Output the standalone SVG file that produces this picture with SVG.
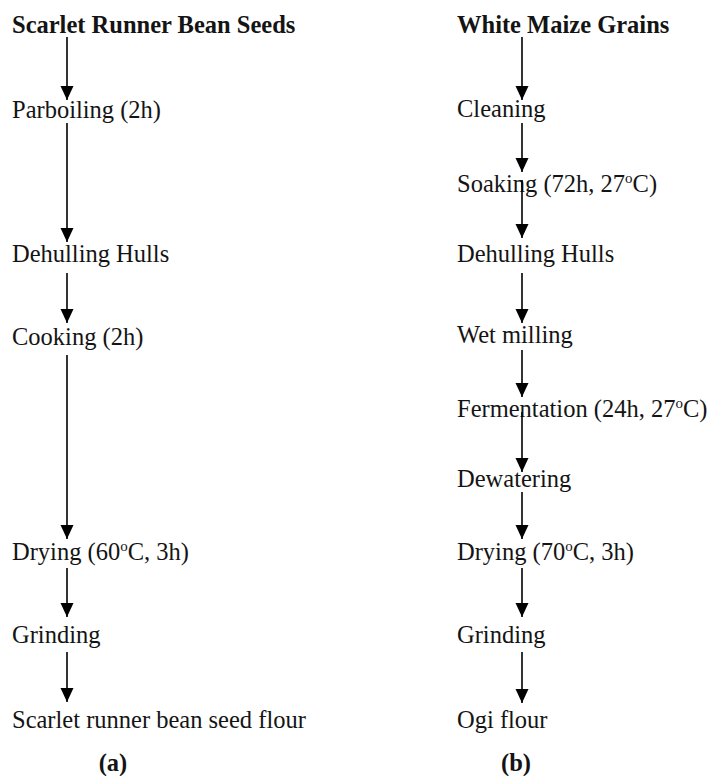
<svg xmlns="http://www.w3.org/2000/svg" width="709" height="776" viewBox="0 0 709 776">
<style>
text{font-family:"Liberation Serif","Times New Roman",serif;font-size:24.5px;fill:#141414}
.b{font-weight:bold}
.sup{font-size:15px}
.c line{stroke:#000;stroke-width:1.6;marker-end:url(#ah)}
</style>
<defs>
<marker id="ah" markerUnits="userSpaceOnUse" markerWidth="14" markerHeight="14" refX="14" refY="7" orient="auto" viewBox="0 0 14 14">
<path d="M0,0.5 L14,7 L0,13.5 Z" fill="#000"/>
</marker>
</defs>
<g id="a-title"><text x="12" y="33" class="b">Scarlet Runner Bean Seeds</text></g>
<g id="a-parboiling"><text x="12" y="118">Parboiling (2h)</text></g>
<g id="a-dehulling"><text x="12" y="262">Dehulling Hulls</text></g>
<g id="a-cooking"><text x="12" y="345">Cooking (2h)</text></g>
<g id="a-drying"><text x="12" y="560">Drying (60<tspan class="sup" dy="-9">o</tspan><tspan dy="9">C, 3h)</tspan></text></g>
<g id="a-grinding"><text x="12" y="643">Grinding</text></g>
<g id="a-flour"><text x="12" y="728">Scarlet runner bean seed flour</text></g>
<g id="a-label"><text x="113" y="771" class="b" text-anchor="middle">(a)</text></g>

<g id="b-title"><text x="457" y="33" class="b">White Maize Grains</text></g>
<g id="b-cleaning"><text x="457" y="117">Cleaning</text></g>
<g id="b-soaking"><text x="457" y="192">Soaking (72h, 27<tspan class="sup" dy="-9">o</tspan><tspan dy="9">C)</tspan></text></g>
<g id="b-dehulling"><text x="457" y="262">Dehulling Hulls</text></g>
<g id="b-wetmilling"><text x="457" y="343">Wet milling</text></g>
<g id="b-fermentation"><text x="457" y="417">Fermentation (24h, 27<tspan class="sup" dy="-9">o</tspan><tspan dy="9">C)</tspan></text></g>
<g id="b-dewatering"><text x="457" y="487">Dewatering</text></g>
<g id="b-drying"><text x="457" y="560">Drying (70<tspan class="sup" dy="-9">o</tspan><tspan dy="9">C, 3h)</tspan></text></g>
<g id="b-grinding"><text x="457" y="643">Grinding</text></g>
<g id="b-flour"><text x="457" y="728">Ogi flour</text></g>
<g id="b-label"><text x="516" y="771" class="b" text-anchor="middle">(b)</text></g>

<g id="connectors" class="c">
<line x1="67" y1="37" x2="67" y2="100"/>
<line x1="67" y1="123" x2="67" y2="242"/>
<line x1="67" y1="273" x2="67" y2="323"/>
<line x1="67" y1="355" x2="67" y2="539"/>
<line x1="67" y1="568" x2="67" y2="617"/>
<line x1="67" y1="652" x2="67" y2="702"/>

<line x1="522" y1="37" x2="522" y2="100"/>
<line x1="522" y1="123" x2="522" y2="172"/>
<line x1="522" y1="180" x2="522" y2="238"/>
<line x1="522" y1="273" x2="522" y2="323"/>
<line x1="522" y1="350" x2="522" y2="397"/>
<line x1="522" y1="412" x2="522" y2="472"/>
<line x1="522" y1="492" x2="522" y2="539"/>
<line x1="522" y1="568" x2="522" y2="617"/>
<line x1="522" y1="652" x2="522" y2="703"/>
</g>
</svg>
